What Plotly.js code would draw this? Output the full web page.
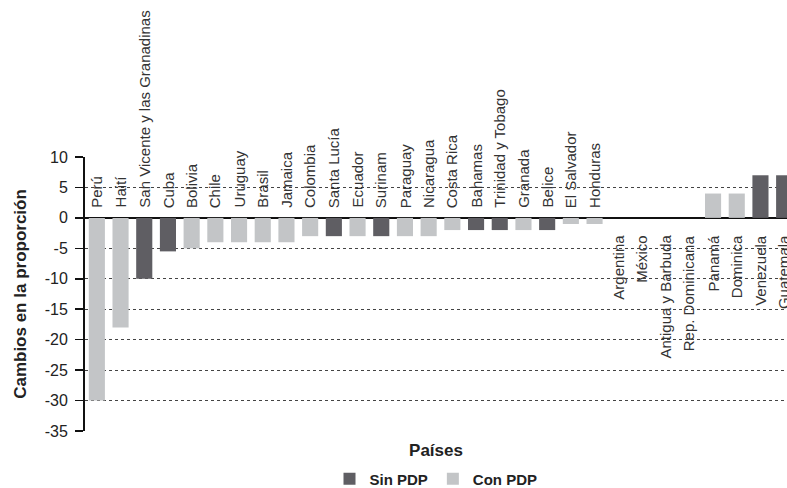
<!DOCTYPE html>
<html>
<head>
<meta charset="utf-8">
<script src="https://cdn.plot.ly/plotly-3.0.1.min.js"></script>
<style>
html,body{margin:0;padding:0;background:#fff;}
#chart{width:787px;height:488px;}
</style>
</head>
<body>
<div id="chart"></div>
<script>
const countries = ["Perú","Haití","San Vicente y las Granadinas","Cuba","Bolivia","Chile","Uruguay","Brasil","Jamaica","Colombia","Santa Lucía","Ecuador","Surinam","Paraguay","Nicaragua","Costa Rica","Bahamas","Trinidad y Tobago","Granada","Belice","El Salvador","Honduras","Argentina","México","Antigua y Barbuda","Rep. Dominicana","Panamá","Dominica","Venezuela","Guatemala"];
const sinPDP = [null,null,-10,-5.5,null,null,null,null,null,null,-3,null,-3,null,null,null,-2,-2,null,-2,null,null,null,null,null,null,null,null,7,7];
const conPDP = [-30,-18,null,null,-5,-4,-4,-4,-4,-3,null,-3,null,-3,-3,-2,null,null,-2,null,-1,-1,null,null,null,null,4,4,null,null];
const seriesNames = ["Sin PDP","Con PDP"];
const yTicks = [10,5,0,-5,-10,-15,-20,-25,-30,-35];
const yTickText = ["10","5","0","-5","-10","-15","-20","-25","-30","-35"];
const yTitle = "Cambios en la proporción";
const xTitle = "Países";

const FONT = '"Liberation Sans",Arial,sans-serif';
const yMin = -35, yMax = 10;
const xRange = [-0.5, 29.12];

const traces = [
  {type:'bar', name:seriesNames[0], x:countries, y:sinPDP, marker:{color:'#5f5e63'}},
  {type:'bar', name:seriesNames[1], x:countries, y:conPDP, marker:{color:'#c3c5c7'}}
];

const annotations = countries.map((c,i)=>{
  const v = (sinPDP[i] !== null ? sinPDP[i] : (conPDP[i] !== null ? conPDP[i] : 0));
  const above = v < 0;
  return {
    x:c, y:0, xref:'x', yref:'y', text:c, showarrow:false, textangle:-90,
    xanchor:'center', yanchor: above ? 'bottom' : 'top',
    yshift: above ? 8 : -15,
    font:{family:FONT, size:15, color:'#333'}
  };
});

const layout = {
  width:787, height:488,
  margin:{l:85, r:0, t:157, b:57, autoexpand:false},
  paper_bgcolor:'#fff', plot_bgcolor:'#fff',
  barmode:'overlay', bargap:0.32,
  showlegend:true,
  legend:{orientation:'h', x:0.5, xanchor:'center', y:-0.175, yanchor:'middle',
          font:{family:FONT, size:15, color:'#222', weight:'bold'}, traceorder:'normal'},
  font:{family:FONT, color:'#222'},
  xaxis:{type:'category', range:xRange, showline:false, ticks:'', showticklabels:false,
         showgrid:false, zeroline:false, fixedrange:true,
         title:{text:xTitle, font:{family:FONT, size:17, color:'#222', weight:'bold'}, standoff:13}},
  xaxis2:{type:'linear', overlaying:'x', anchor:'free', position:(0 - yMin)/(yMax - yMin),
          range:xRange, tickmode:'linear', tick0:-0.5, dtick:1, ticks:'outside', ticklen:8,
          tickwidth:1.5, tickcolor:'#111', showticklabels:false, showgrid:false, zeroline:false,
          showline:false},
  yaxis:{range:[yMin,yMax], tickmode:'array', tickvals:yTicks, ticktext:yTickText,
         ticks:'outside', ticklen:8, tickwidth:1.5, tickcolor:'#111', ticklabelstandoff:4,
         showline:true, linecolor:'#111', linewidth:2,
         showgrid:true, gridcolor:'#444', griddash:'dot', gridwidth:1,
         zeroline:true, zerolinecolor:'#111', zerolinewidth:2,
         tickfont:{family:FONT, size:16, color:'#222'},
         title:{text:yTitle, font:{family:FONT, size:17, color:'#222', weight:'bold'}, standoff:14}},
  annotations:annotations
};

Plotly.newPlot('chart', traces, layout, {displayModeBar:false, staticPlot:true});
</script>
</body>
</html>
